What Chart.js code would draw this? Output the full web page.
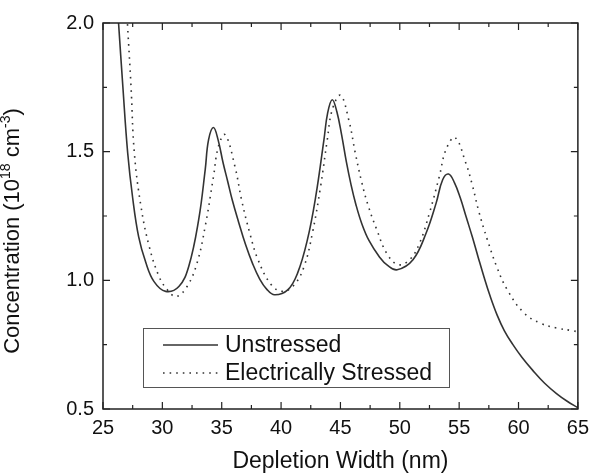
<!DOCTYPE html>
<html lang="en">
  <head>
    <meta charset="UTF-8" />
    <title>Concentration vs Depletion Width</title>
    <script src="https://cdn.jsdelivr.net/npm/chart.js"></script>
    <style>
      html, body { margin: 0; padding: 0; background: #fff; }
      #wrap { width: 596px; height: 476px; }
    </style>
  </head>
  <body>
    <div id="wrap"><canvas id="myChart" width="596" height="476"></canvas></div>
    <script>
      // values
      const xUnstressed = [26.0, 26.31, 26.67, 27.08, 27.5, 28.0, 28.6, 29.3, 30.28, 31.39, 32.22, 33.06, 33.61, 33.89, 34.31, 34.7, 35.1, 35.5, 35.9, 36.4, 37.0, 37.6, 38.2, 38.8, 39.45, 40.56, 41.39, 42.22, 42.92, 43.61, 43.92, 44.31, 44.7, 45.1, 45.5, 45.9, 46.3, 46.8, 47.4, 48.3, 49.0, 49.78, 51.11, 52.22, 53.06, 53.61, 54.11, 54.6, 55.1, 55.6, 56.1, 56.6, 57.1, 57.6, 58.2, 58.8, 59.5, 60.3, 61.2, 62.2, 63.2, 64.1, 65.0];
      const yUnstressed = [2.22, 2.0, 1.754, 1.495, 1.32, 1.17, 1.07, 0.995, 0.957, 0.976, 1.054, 1.236, 1.43, 1.546, 1.594, 1.545, 1.46, 1.385, 1.31, 1.23, 1.14, 1.065, 1.005, 0.965, 0.944, 0.963, 1.028, 1.158, 1.326, 1.546, 1.65, 1.702, 1.655, 1.565, 1.46, 1.37, 1.295, 1.22, 1.155, 1.09, 1.057, 1.041, 1.08, 1.184, 1.30, 1.391, 1.413, 1.38, 1.32, 1.245, 1.17, 1.09, 1.012, 0.94, 0.865, 0.805, 0.752, 0.70, 0.65, 0.60, 0.56, 0.53, 0.505];

      const xStressed = [26.8, 27.08, 27.36, 27.64, 28.2, 28.89, 29.72, 30.42, 31.17, 32.08, 32.92, 33.61, 34.31, 34.72, 35.28, 36.11, 36.67, 37.36, 38.06, 39.17, 40.14, 41.11, 41.94, 42.64, 43.33, 43.89, 44.31, 45.0, 45.7, 46.25, 46.81, 47.36, 48.06, 48.89, 49.86, 50.83, 51.67, 52.5, 53.33, 53.89, 54.65, 55.56, 56.11, 56.67, 57.36, 58.19, 59.03, 60.42, 61.81, 63.19, 64.45, 65.0];
      const yStressed = [2.2, 1.98, 1.754, 1.495, 1.287, 1.132, 1.015, 0.963, 0.937, 0.976, 1.067, 1.21, 1.404, 1.52, 1.566, 1.443, 1.313, 1.184, 1.08, 0.983, 0.957, 0.983, 1.054, 1.184, 1.365, 1.546, 1.663, 1.719, 1.624, 1.495, 1.378, 1.287, 1.197, 1.106, 1.061, 1.08, 1.145, 1.262, 1.404, 1.508, 1.555, 1.456, 1.37, 1.265, 1.16, 1.05, 0.965, 0.875, 0.834, 0.815, 0.805, 0.80];

      const seriesNames = ["Unstressed", "Electrically Stressed"];
      const xTicks = [25, 30, 35, 40, 45, 50, 55, 60, 65];
      const yTicks = [0.5, 1.0, 1.5, 2.0];
      const xMinor = [27.5, 32.5, 37.5, 42.5, 47.5, 52.5, 57.5, 62.5];
      const yMinor = [0.75, 1.25, 1.75];

      const FONT = "'Liberation Sans', Arial, sans-serif";
      const INK = "#222";

      function toPoints(xs, ys) {
        return xs.map((x, i) => ({ x: x, y: ys[i] }));
      }

      // frame, inward ticks, legend box and axis titles
      const decor = {
        id: "decor",
        afterDraw(chart) {
          const ctx = chart.ctx;
          const a = chart.chartArea;
          const xs = chart.scales.x;
          const ys = chart.scales.y;
          ctx.save();
          ctx.strokeStyle = INK;
          ctx.lineWidth = 1.5;
          ctx.strokeRect(a.left, a.top, a.right - a.left, a.bottom - a.top);

          ctx.lineWidth = 1.2;
          ctx.beginPath();
          const tickX = (v, len) => {
            const p = xs.getPixelForValue(v);
            ctx.moveTo(p, a.bottom); ctx.lineTo(p, a.bottom - len);
            ctx.moveTo(p, a.top); ctx.lineTo(p, a.top + len);
          };
          const tickY = (v, len) => {
            const p = ys.getPixelForValue(v);
            ctx.moveTo(a.left, p); ctx.lineTo(a.left + len, p);
            ctx.moveTo(a.right, p); ctx.lineTo(a.right - len, p);
          };
          xTicks.forEach((v) => tickX(v, 7));
          xMinor.forEach((v) => tickX(v, 4));
          yTicks.forEach((v) => tickY(v, 7));
          yMinor.forEach((v) => tickY(v, 4));
          ctx.stroke();

          // legend
          const lx = 143, ly = 328, lw = 306, lh = 59;
          ctx.fillStyle = "#fff";
          ctx.fillRect(lx, ly, lw, lh);
          ctx.strokeStyle = "#555";
          ctx.lineWidth = 1;
          ctx.strokeRect(lx + 0.5, ly + 0.5, lw, lh);
          chart.data.datasets.forEach((ds, i) => {
            const y = ly + 17 + i * 28;
            ctx.strokeStyle = ds.borderColor;
            ctx.lineWidth = ds.borderWidth;
            ctx.setLineDash(ds.borderDash || []);
            ctx.beginPath();
            ctx.moveTo(163, y);
            ctx.lineTo(218, y);
            ctx.stroke();
            ctx.setLineDash([]);
            ctx.fillStyle = "#111";
            ctx.font = "23px " + FONT;
            ctx.textBaseline = "middle";
            ctx.textAlign = "left";
            ctx.fillText(ds.label, 225, y + 1);
          });

          // x title
          ctx.fillStyle = "#111";
          ctx.font = "23px " + FONT;
          ctx.textAlign = "center";
          ctx.textBaseline = "middle";
          ctx.fillText("Depletion Width (nm)", (a.left + a.right) / 2, 462);

          // y title with superscripts
          const parts = [
            ["Concentration (10", false],
            ["18", true],
            [" cm", false],
            ["-3", true],
            [")", false],
          ];
          const big = "22px " + FONT, small = "14px " + FONT;
          let total = 0;
          parts.forEach((p) => {
            ctx.font = p[1] ? small : big;
            total += ctx.measureText(p[0]).width;
          });
          ctx.translate(19, 231);
          ctx.rotate(-Math.PI / 2);
          ctx.textAlign = "left";
          ctx.textBaseline = "alphabetic";
          let cx = -total / 2;
          parts.forEach((p) => {
            ctx.font = p[1] ? small : big;
            ctx.fillText(p[0], cx, p[1] ? -9 : 0);
            cx += ctx.measureText(p[0]).width;
          });
          ctx.restore();
        },
      };

      const data = {
        datasets: [
          {
            label: seriesNames[0],
            data: toPoints(xUnstressed, yUnstressed),
            borderColor: "#333",
            borderWidth: 1.6,
            pointRadius: 0,
            tension: 0.4,
          },
          {
            label: seriesNames[1],
            data: toPoints(xStressed, yStressed),
            borderColor: "#333",
            borderWidth: 1.6,
            borderDash: [1.6, 5],
            pointRadius: 0,
            tension: 0.4,
          },
        ],
      };

      const options = {
        responsive: false,
        animation: false,
        layout: { padding: { top: 23, right: 12, left: 0, bottom: 0 } },
        plugins: { legend: { display: false }, tooltip: { enabled: false } },
        scales: {
          x: {
            type: "linear",
            min: 25,
            max: 65,
            afterBuildTicks: (s) => { s.ticks = xTicks.map((v) => ({ value: v })); },
            afterFit: (s) => { s.height = 67; },
            grid: { display: false, drawTicks: false },
            border: { display: false },
            ticks: { padding: 7, color: "#111", font: { family: FONT, size: 20 } },
          },
          y: {
            type: "linear",
            min: 0.5,
            max: 2.0,
            afterBuildTicks: (s) => { s.ticks = yTicks.map((v) => ({ value: v })); },
            afterFit: (s) => { s.width = 103; },
            grid: { display: false, drawTicks: false },
            border: { display: false },
            ticks: {
              padding: 9,
              color: "#111",
              font: { family: FONT, size: 20 },
              callback: (v) => Number(v).toFixed(1),
            },
          },
        },
      };

      new Chart(document.getElementById("myChart"), {
        type: "line",
        data: data,
        options: options,
        plugins: [decor],
      });
    </script>
  </body>
</html>
